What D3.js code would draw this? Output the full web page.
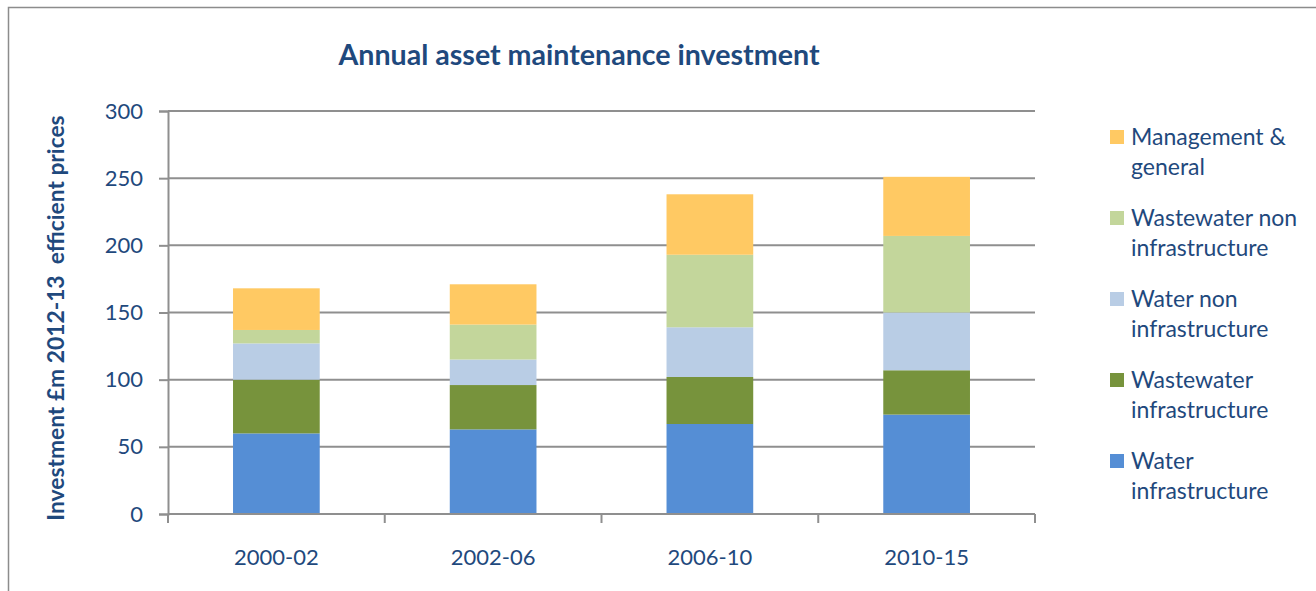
<!DOCTYPE html>
<html>
<head>
<meta charset="utf-8">
<script src="https://cdn.jsdelivr.net/npm/d3@7"></script>
<style>
  body { margin: 0; background: #fff; }
  svg text { font-family: Lato, "Open Sans", sans-serif; fill: #1F497D; }
</style>
</head>
<body>
<svg id="chart" width="1316" height="591"></svg>
<script>
// values (£m, 2012-13 efficient prices)
const categories = ["2000-02", "2002-06", "2006-10", "2010-15"]
const waterInfra = [60, 63, 67, 74]
const wastewaterInfra = [40, 33, 35, 33]
const waterNonInfra = [27, 19, 37, 43]
const wastewaterNonInfra = [10, 26, 54, 57]
const management = [31, 30, 45, 44]
const yTicks = [0, 50, 100, 150, 200, 250, 300]

const seriesNames = ["Water infrastructure", "Wastewater infrastructure", "Water non infrastructure",
  "Wastewater non infrastructure", "Management & general"]
const seriesValues = [waterInfra, wastewaterInfra, waterNonInfra, wastewaterNonInfra, management]
const colors = ["#558ED5", "#77933C", "#B9CDE5", "#C3D69B", "#FFC963"]
// legend lines, top to bottom
const legendLines = [["Management &", "general"], ["Wastewater non", "infrastructure"],
  ["Water non", "infrastructure"], ["Wastewater", "infrastructure"], ["Water", "infrastructure"]]

const svg = d3.select("#chart")

// outer frame (only top and left edges show)
svg.append("path")
  .attr("d", "M8.5,591 V7.5 H1316")
  .attr("fill", "none")
  .attr("stroke", "#8c8c8c")
  .attr("stroke-width", 1.5)

const x = d3.scaleBand()
  .domain(categories)
  .range([168, 1035])
  .paddingInner(0.6)
  .paddingOuter(0.3)

const y = d3.scaleLinear()
  .domain([0, 300])
  .range([514, 111])

// gridlines
svg.append("g")
  .selectAll("line")
  .data(yTicks)
  .enter()
  .append("line")
  .attr("x1", 168)
  .attr("x2", 1035)
  .attr("y1", d => y(d))
  .attr("y2", d => y(d))
  .attr("stroke", "#8f8f8f")
  .attr("stroke-width", 2)

// stacked bars
const table = categories.map((c, i) => {
  let row = {cat: c}
  seriesNames.forEach((s, j) => row[s] = seriesValues[j][i])
  return row
})
const stacked = d3.stack().keys(seriesNames)(table)

svg.append("g")
  .selectAll("g")
  .data(stacked)
  .enter()
  .append("g")
  .attr("fill", (d, i) => colors[i])
  .selectAll("rect")
  .data(d => d)
  .enter()
  .append("rect")
  .attr("x", d => x(d.data.cat))
  .attr("width", x.bandwidth())
  .attr("y", d => y(d[1]))
  .attr("height", d => y(d[0]) - y(d[1]))

// y axis
const yAxis = svg.append("g")
  .attr("transform", "translate(168,0)")
  .call(d3.axisLeft(y).tickValues(yTicks).tickSize(9).tickPadding(16))
yAxis.select(".domain").attr("stroke", "#8f8f8f").attr("stroke-width", 2)
yAxis.selectAll(".tick line").attr("stroke", "#8f8f8f").attr("stroke-width", 2)
yAxis.selectAll(".tick text")
  .attr("fill", "#1F497D")
  .style("font-size", "22px")
  .style("font-family", "Lato, sans-serif")

// x axis, ticks at category boundaries
const xAxis = svg.append("g")
  .attr("transform", "translate(0,514)")
xAxis.append("line")
  .attr("x1", 168).attr("x2", 1035)
  .attr("stroke", "#8f8f8f").attr("stroke-width", 2)
xAxis.selectAll(".xtick")
  .data([168].concat(categories.slice(1).map(c => x(c) - (x.step() - x.bandwidth()) / 2), [1035]))
  .enter()
  .append("line")
  .attr("x1", d => d).attr("x2", d => d)
  .attr("y1", 0).attr("y2", 9)
  .attr("stroke", "#8f8f8f").attr("stroke-width", 2)
xAxis.selectAll(".xlabel")
  .data(categories)
  .enter()
  .append("text")
  .attr("x", d => x(d) + x.bandwidth() / 2)
  .attr("y", 51)
  .attr("text-anchor", "middle")
  .style("font-size", "22px")
  .text(d => d)

// title
svg.append("text")
  .attr("x", 579)
  .attr("y", 65)
  .attr("text-anchor", "middle")
  .style("font-size", "28.6px")
  .style("font-weight", "bold")
  .text("Annual asset maintenance investment")

// y axis title
svg.append("text")
  .attr("transform", "translate(64,318) rotate(-90)")
  .attr("text-anchor", "middle")
  .style("font-size", "22.8px")
  .style("font-weight", "bold")
  .style("white-space", "pre")
  .text("Investment £m 2012-13  efficient prices")

// legend
const legend = svg.append("g")
  .selectAll("g")
  .data(legendLines)
  .enter()
  .append("g")
  .attr("transform", (d, i) => "translate(1110," + (137 + i * 81) + ")")

legend.append("rect")
  .attr("x", 0).attr("y", -7)
  .attr("width", 14).attr("height", 14)
  .attr("fill", (d, i) => colors[colors.length - 1 - i])

legend.append("text")
  .attr("x", 21)
  .attr("y", 8)
  .style("font-size", "23px")
  .selectAll("tspan")
  .data(d => d)
  .enter()
  .append("tspan")
  .attr("x", 21)
  .attr("dy", (d, i) => i == 0 ? 0 : 30)
  .text(d => d)
</script>
</body>
</html>
